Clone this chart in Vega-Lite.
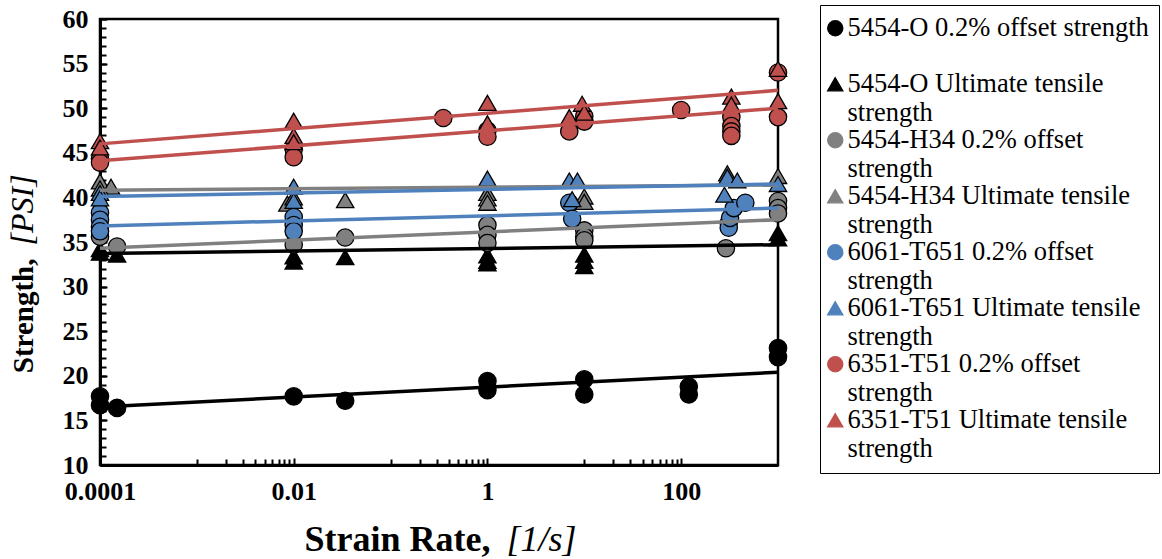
{
  "$schema": "https://vega.github.io/schema/vega-lite/v6.json",
  "width": 678,
  "height": 446,
  "autosize": {"type": "none"},
  "padding": {"left": 100, "top": 19, "right": 384, "bottom": 94},
  "background": "white",
  "config": {
    "view": {"stroke": "black", "strokeWidth": 2.5},
    "axis": {"grid": false, "labelFont": "Liberation Serif", "titleFont": "Liberation Serif", "labelColor": "black", "titleColor": "black", "tickColor": "black", "domainColor": "black", "labelOverlap": false},
    "legend": {"labelFont": "Liberation Serif"}
  },
  "datasets": {
    "pts": [
      {"s": "5454-O 0.2% offset strength", "rate": 0.0001, "str": 17.7},
      {"s": "5454-O 0.2% offset strength", "rate": 0.0001, "str": 16.7},
      {"s": "5454-O 0.2% offset strength", "rate": 0.00015, "str": 16.4},
      {"s": "5454-O 0.2% offset strength", "rate": 0.01, "str": 17.7},
      {"s": "5454-O 0.2% offset strength", "rate": 0.034, "str": 17.2},
      {"s": "5454-O 0.2% offset strength", "rate": 1, "str": 19.4},
      {"s": "5454-O 0.2% offset strength", "rate": 1, "str": 18.4},
      {"s": "5454-O 0.2% offset strength", "rate": 10, "str": 19.6},
      {"s": "5454-O 0.2% offset strength", "rate": 10, "str": 17.9},
      {"s": "5454-O 0.2% offset strength", "rate": 120, "str": 18.8},
      {"s": "5454-O 0.2% offset strength", "rate": 120, "str": 17.9},
      {"s": "5454-O 0.2% offset strength", "rate": 1000, "str": 23.1},
      {"s": "5454-O 0.2% offset strength", "rate": 1000, "str": 22.1},
      {"s": "5454-O Ultimate tensile strength", "rate": 0.0001, "str": 34.2},
      {"s": "5454-O Ultimate tensile strength", "rate": 0.0001, "str": 33.8},
      {"s": "5454-O Ultimate tensile strength", "rate": 0.00015, "str": 33.6},
      {"s": "5454-O Ultimate tensile strength", "rate": 0.01, "str": 33.4},
      {"s": "5454-O Ultimate tensile strength", "rate": 0.01, "str": 32.8},
      {"s": "5454-O Ultimate tensile strength", "rate": 0.034, "str": 33.3},
      {"s": "5454-O Ultimate tensile strength", "rate": 1, "str": 33.5},
      {"s": "5454-O Ultimate tensile strength", "rate": 1, "str": 32.9},
      {"s": "5454-O Ultimate tensile strength", "rate": 1, "str": 32.6},
      {"s": "5454-O Ultimate tensile strength", "rate": 10, "str": 33.6},
      {"s": "5454-O Ultimate tensile strength", "rate": 10, "str": 32.9},
      {"s": "5454-O Ultimate tensile strength", "rate": 10, "str": 32.3},
      {"s": "5454-O Ultimate tensile strength", "rate": 1000, "str": 36.0},
      {"s": "5454-O Ultimate tensile strength", "rate": 1000, "str": 35.4},
      {"s": "5454-H34 0.2% offset strength", "rate": 0.0001, "str": 35.6},
      {"s": "5454-H34 0.2% offset strength", "rate": 0.00015, "str": 34.5},
      {"s": "5454-H34 0.2% offset strength", "rate": 0.01, "str": 34.7},
      {"s": "5454-H34 0.2% offset strength", "rate": 0.034, "str": 35.5},
      {"s": "5454-H34 0.2% offset strength", "rate": 1, "str": 36.9},
      {"s": "5454-H34 0.2% offset strength", "rate": 1, "str": 35.8},
      {"s": "5454-H34 0.2% offset strength", "rate": 1, "str": 34.9},
      {"s": "5454-H34 0.2% offset strength", "rate": 10, "str": 36.3},
      {"s": "5454-H34 0.2% offset strength", "rate": 10, "str": 35.6},
      {"s": "5454-H34 0.2% offset strength", "rate": 10, "str": 35.2},
      {"s": "5454-H34 0.2% offset strength", "rate": 310, "str": 37.1},
      {"s": "5454-H34 0.2% offset strength", "rate": 290, "str": 34.3},
      {"s": "5454-H34 0.2% offset strength", "rate": 1000, "str": 39.6},
      {"s": "5454-H34 0.2% offset strength", "rate": 1000, "str": 38.8},
      {"s": "5454-H34 0.2% offset strength", "rate": 1000, "str": 38.2},
      {"s": "5454-H34 Ultimate tensile strength", "rate": 0.0001, "str": 41.8},
      {"s": "5454-H34 Ultimate tensile strength", "rate": 0.00013, "str": 41.2},
      {"s": "5454-H34 Ultimate tensile strength", "rate": 0.0001, "str": 41.0},
      {"s": "5454-H34 Ultimate tensile strength", "rate": 0.0086, "str": 39.3},
      {"s": "5454-H34 Ultimate tensile strength", "rate": 0.01, "str": 40.0},
      {"s": "5454-H34 Ultimate tensile strength", "rate": 0.034, "str": 39.7},
      {"s": "5454-H34 Ultimate tensile strength", "rate": 1, "str": 40.5},
      {"s": "5454-H34 Ultimate tensile strength", "rate": 1, "str": 39.9},
      {"s": "5454-H34 Ultimate tensile strength", "rate": 1, "str": 39.4},
      {"s": "5454-H34 Ultimate tensile strength", "rate": 10, "str": 40.1},
      {"s": "5454-H34 Ultimate tensile strength", "rate": 10, "str": 39.5},
      {"s": "5454-H34 Ultimate tensile strength", "rate": 300, "str": 42.7},
      {"s": "5454-H34 Ultimate tensile strength", "rate": 300, "str": 42.2},
      {"s": "5454-H34 Ultimate tensile strength", "rate": 1000, "str": 42.4},
      {"s": "6061-T651 0.2% offset strength", "rate": 0.0001, "str": 38.3},
      {"s": "6061-T651 0.2% offset strength", "rate": 0.0001, "str": 37.5},
      {"s": "6061-T651 0.2% offset strength", "rate": 0.0001, "str": 36.7},
      {"s": "6061-T651 0.2% offset strength", "rate": 0.0001, "str": 36.2},
      {"s": "6061-T651 0.2% offset strength", "rate": 0.01, "str": 37.8},
      {"s": "6061-T651 0.2% offset strength", "rate": 0.01, "str": 36.9},
      {"s": "6061-T651 0.2% offset strength", "rate": 0.01, "str": 36.2},
      {"s": "6061-T651 0.2% offset strength", "rate": 7, "str": 39.4},
      {"s": "6061-T651 0.2% offset strength", "rate": 7.5, "str": 37.6},
      {"s": "6061-T651 0.2% offset strength", "rate": 310, "str": 36.6},
      {"s": "6061-T651 0.2% offset strength", "rate": 320, "str": 37.7},
      {"s": "6061-T651 0.2% offset strength", "rate": 350, "str": 38.8},
      {"s": "6061-T651 0.2% offset strength", "rate": 460, "str": 39.4},
      {"s": "6061-T651 Ultimate tensile strength", "rate": 0.0001, "str": 40.5},
      {"s": "6061-T651 Ultimate tensile strength", "rate": 0.0001, "str": 39.9},
      {"s": "6061-T651 Ultimate tensile strength", "rate": 0.01, "str": 41.2},
      {"s": "6061-T651 Ultimate tensile strength", "rate": 0.01, "str": 39.6},
      {"s": "6061-T651 Ultimate tensile strength", "rate": 1, "str": 42.1},
      {"s": "6061-T651 Ultimate tensile strength", "rate": 7, "str": 41.9},
      {"s": "6061-T651 Ultimate tensile strength", "rate": 8.5, "str": 41.9},
      {"s": "6061-T651 Ultimate tensile strength", "rate": 7.5, "str": 39.8},
      {"s": "6061-T651 Ultimate tensile strength", "rate": 300, "str": 42.3},
      {"s": "6061-T651 Ultimate tensile strength", "rate": 380, "str": 41.9},
      {"s": "6061-T651 Ultimate tensile strength", "rate": 280, "str": 40.3},
      {"s": "6061-T651 Ultimate tensile strength", "rate": 1000, "str": 41.5},
      {"s": "6351-T51 0.2% offset strength", "rate": 0.0001, "str": 44.3},
      {"s": "6351-T51 0.2% offset strength", "rate": 0.0001, "str": 43.9},
      {"s": "6351-T51 0.2% offset strength", "rate": 0.01, "str": 45.4},
      {"s": "6351-T51 0.2% offset strength", "rate": 0.01, "str": 44.5},
      {"s": "6351-T51 0.2% offset strength", "rate": 0.35, "str": 48.9},
      {"s": "6351-T51 0.2% offset strength", "rate": 1, "str": 47.5},
      {"s": "6351-T51 0.2% offset strength", "rate": 1, "str": 46.8},
      {"s": "6351-T51 0.2% offset strength", "rate": 7, "str": 47.4},
      {"s": "6351-T51 0.2% offset strength", "rate": 10, "str": 49.1},
      {"s": "6351-T51 0.2% offset strength", "rate": 10, "str": 48.5},
      {"s": "6351-T51 0.2% offset strength", "rate": 100, "str": 49.8},
      {"s": "6351-T51 0.2% offset strength", "rate": 330, "str": 49.0},
      {"s": "6351-T51 0.2% offset strength", "rate": 330, "str": 48.0},
      {"s": "6351-T51 0.2% offset strength", "rate": 330, "str": 47.4},
      {"s": "6351-T51 0.2% offset strength", "rate": 330, "str": 46.9},
      {"s": "6351-T51 0.2% offset strength", "rate": 1000, "str": 54.0},
      {"s": "6351-T51 0.2% offset strength", "rate": 1000, "str": 49.0},
      {"s": "6351-T51 Ultimate tensile strength", "rate": 0.0001, "str": 46.3},
      {"s": "6351-T51 Ultimate tensile strength", "rate": 0.0001, "str": 45.6},
      {"s": "6351-T51 Ultimate tensile strength", "rate": 0.01, "str": 48.6},
      {"s": "6351-T51 Ultimate tensile strength", "rate": 0.01, "str": 46.9},
      {"s": "6351-T51 Ultimate tensile strength", "rate": 0.01, "str": 46.2},
      {"s": "6351-T51 Ultimate tensile strength", "rate": 1, "str": 50.6},
      {"s": "6351-T51 Ultimate tensile strength", "rate": 1, "str": 48.3},
      {"s": "6351-T51 Ultimate tensile strength", "rate": 7, "str": 49.0},
      {"s": "6351-T51 Ultimate tensile strength", "rate": 9.5, "str": 50.5},
      {"s": "6351-T51 Ultimate tensile strength", "rate": 10, "str": 49.5},
      {"s": "6351-T51 Ultimate tensile strength", "rate": 330, "str": 51.3},
      {"s": "6351-T51 Ultimate tensile strength", "rate": 330, "str": 50.4},
      {"s": "6351-T51 Ultimate tensile strength", "rate": 1000, "str": 54.4},
      {"s": "6351-T51 Ultimate tensile strength", "rate": 1000, "str": 50.8}
    ],
    "fits": [
      {"s": "5454-O 0.2% offset strength", "rate": 0.0001, "str": 16.5},
      {"s": "5454-O 0.2% offset strength", "rate": 1000, "str": 20.4},
      {"s": "5454-O Ultimate tensile strength", "rate": 0.0001, "str": 33.7},
      {"s": "5454-O Ultimate tensile strength", "rate": 1000, "str": 34.7},
      {"s": "5454-H34 0.2% offset strength", "rate": 0.0001, "str": 34.3},
      {"s": "5454-H34 0.2% offset strength", "rate": 1000, "str": 37.5},
      {"s": "5454-H34 Ultimate tensile strength", "rate": 0.0001, "str": 40.8},
      {"s": "5454-H34 Ultimate tensile strength", "rate": 1000, "str": 41.4},
      {"s": "6061-T651 0.2% offset strength", "rate": 0.0001, "str": 36.8},
      {"s": "6061-T651 0.2% offset strength", "rate": 1000, "str": 38.8},
      {"s": "6061-T651 Ultimate tensile strength", "rate": 0.0001, "str": 40.1},
      {"s": "6061-T651 Ultimate tensile strength", "rate": 1000, "str": 41.5},
      {"s": "6351-T51 0.2% offset strength", "rate": 0.0001, "str": 44.1},
      {"s": "6351-T51 0.2% offset strength", "rate": 1000, "str": 50.0},
      {"s": "6351-T51 Ultimate tensile strength", "rate": 0.0001, "str": 46.0},
      {"s": "6351-T51 Ultimate tensile strength", "rate": 1000, "str": 52.0}
    ]
  },
  "resolve": {"axis": {"x": "independent", "y": "independent"}},
  "layer": [
    {
      "data": {"name": "pts"},
      "mark": {"type": "point", "filled": true, "stroke": "black", "strokeWidth": 1.3, "size": 300, "opacity": 1},
      "encoding": {
        "x": {
          "field": "rate", "type": "quantitative",
          "scale": {"type": "log", "domain": [0.0001, 1000], "nice": false},
          "axis": {"orient": "bottom", "values": [0.001, 0.002, 0.003, 0.004, 0.005, 0.006, 0.007, 0.008, 0.009, 0.1, 0.2, 0.3, 0.4, 0.5, 0.6, 0.7, 0.8, 0.9, 10, 20, 30, 40, 50, 60, 70, 80, 90],
            "labels": false, "domain": false, "ticks": true, "tickSize": -6, "tickWidth": 2,
            "title": "[1/s]", "titleFontStyle": "italic", "titleFontWeight": "normal", "titleFontSize": 36,
            "titleAlign": "left", "titleBaseline": "alphabetic", "titleX": 406, "titleY": 85}
        },
        "y": {
          "field": "str", "type": "quantitative",
          "scale": {"domain": [10, 60], "nice": false, "zero": false},
          "axis": {"orient": "left", "values": [10, 11, 12, 13, 14, 15, 16, 17, 18, 19, 20, 21, 22, 23, 24, 25, 26, 27, 28, 29, 30, 31, 32, 33, 34, 35, 36, 37, 38, 39, 40, 41, 42, 43, 44, 45, 46, 47, 48, 49, 50, 51, 52, 53, 54, 55, 56, 57, 58, 59, 60],
            "labels": false, "domain": false, "ticks": true, "tickSize": -6, "tickWidth": 2,
            "title": "[PSI]", "titleFontStyle": "italic", "titleFontWeight": "normal", "titleFontSize": 32,
            "titleAngle": 270, "titleAlign": "left", "titleBaseline": "alphabetic", "titleX": -68, "titleY": 226}
        },
        "fill": {
          "field": "s", "type": "nominal",
          "scale": {
            "domain": ["5454-O 0.2% offset strength", "5454-O Ultimate tensile strength", "5454-H34 0.2% offset strength", "5454-H34 Ultimate tensile strength", "6061-T651 0.2% offset strength", "6061-T651 Ultimate tensile strength", "6351-T51 0.2% offset strength", "6351-T51 Ultimate tensile strength"],
            "range": ["#000000", "#000000", "#808080", "#808080", "#4F81BD", "#4F81BD", "#C0504D", "#C0504D"]
          },
          "legend": {
            "orient": "none", "legendX": 720, "legendY": -14, "title": null,
            "labelFont": "Liberation Serif", "labelFontSize": 26.5, "labelColor": "black", "labelLimit": 600,
            "labelBaseline": "middle", "labelOffset": -1, "symbolOffset": -8,
            "labelExpr": "datum.label == '5454-O 0.2% offset strength' ? [datum.label, ''] : [substring(datum.label, 0, length(datum.label) - 9), 'strength']",
            "padding": 10, "strokeColor": "black", "rowPadding": 0,
            "symbolSize": 230, "symbolStrokeColor": "black", "symbolStrokeWidth": 1.3,
            "encode": {
              "labels": {"update": {"dy": {"value": 14.25}, "font": {"value": "Liberation Serif"}, "fontSize": {"value": 26.5}}},
              "legend": {"update": {"strokeWidth": {"value": 1.5}}}
            }
          }
        },
        "shape": {
          "field": "s", "type": "nominal",
          "scale": {
            "domain": ["5454-O 0.2% offset strength", "5454-O Ultimate tensile strength", "5454-H34 0.2% offset strength", "5454-H34 Ultimate tensile strength", "6061-T651 0.2% offset strength", "6061-T651 Ultimate tensile strength", "6351-T51 0.2% offset strength", "6351-T51 Ultimate tensile strength"],
            "range": ["circle", "triangle-up", "circle", "triangle-up", "circle", "triangle-up", "circle", "triangle-up"]
          }
        }
      }
    },
    {
      "data": {"name": "fits"},
      "mark": {"type": "line", "strokeWidth": 3.5},
      "encoding": {
        "x": {
          "field": "rate", "type": "quantitative",
          "scale": {"type": "log", "domain": [0.0001, 1000], "nice": false},
          "axis": {"orient": "bottom", "values": [0.0001, 0.01, 1, 100], "format": "~g", "labelFlush": false,
            "labelFontSize": 26, "labelFontWeight": "bold", "labelPadding": 20, "tickSize": -7, "tickWidth": 2, "domainWidth": 3,
            "title": "Strain Rate,", "titleFontWeight": "bold", "titleFontSize": 36,
            "titleAlign": "right", "titleBaseline": "alphabetic", "titleX": 390, "titleY": 85}
        },
        "y": {
          "field": "str", "type": "quantitative",
          "scale": {"domain": [10, 60], "nice": false, "zero": false},
          "axis": {"orient": "left", "values": [10, 15, 20, 25, 30, 35, 40, 45, 50, 55, 60], "labelFlush": false,
            "labelFontSize": 26, "labelFontWeight": "bold", "labelPadding": 19, "tickSize": -7, "tickWidth": 2, "domainWidth": 3,
            "title": "Strength,", "titleFontWeight": "bold", "titleFontSize": 29,
            "titleAngle": 270, "titleAlign": "right", "titleBaseline": "alphabetic", "titleX": -68, "titleY": 239}
        },
        "stroke": {
          "field": "s", "type": "nominal",
          "scale": {
            "domain": ["5454-O 0.2% offset strength", "5454-O Ultimate tensile strength", "5454-H34 0.2% offset strength", "5454-H34 Ultimate tensile strength", "6061-T651 0.2% offset strength", "6061-T651 Ultimate tensile strength", "6351-T51 0.2% offset strength", "6351-T51 Ultimate tensile strength"],
            "range": ["#000000", "#000000", "#808080", "#808080", "#4F81BD", "#4F81BD", "#C0504D", "#C0504D"]
          },
          "legend": null
        }
      }
    }
  ]
}
